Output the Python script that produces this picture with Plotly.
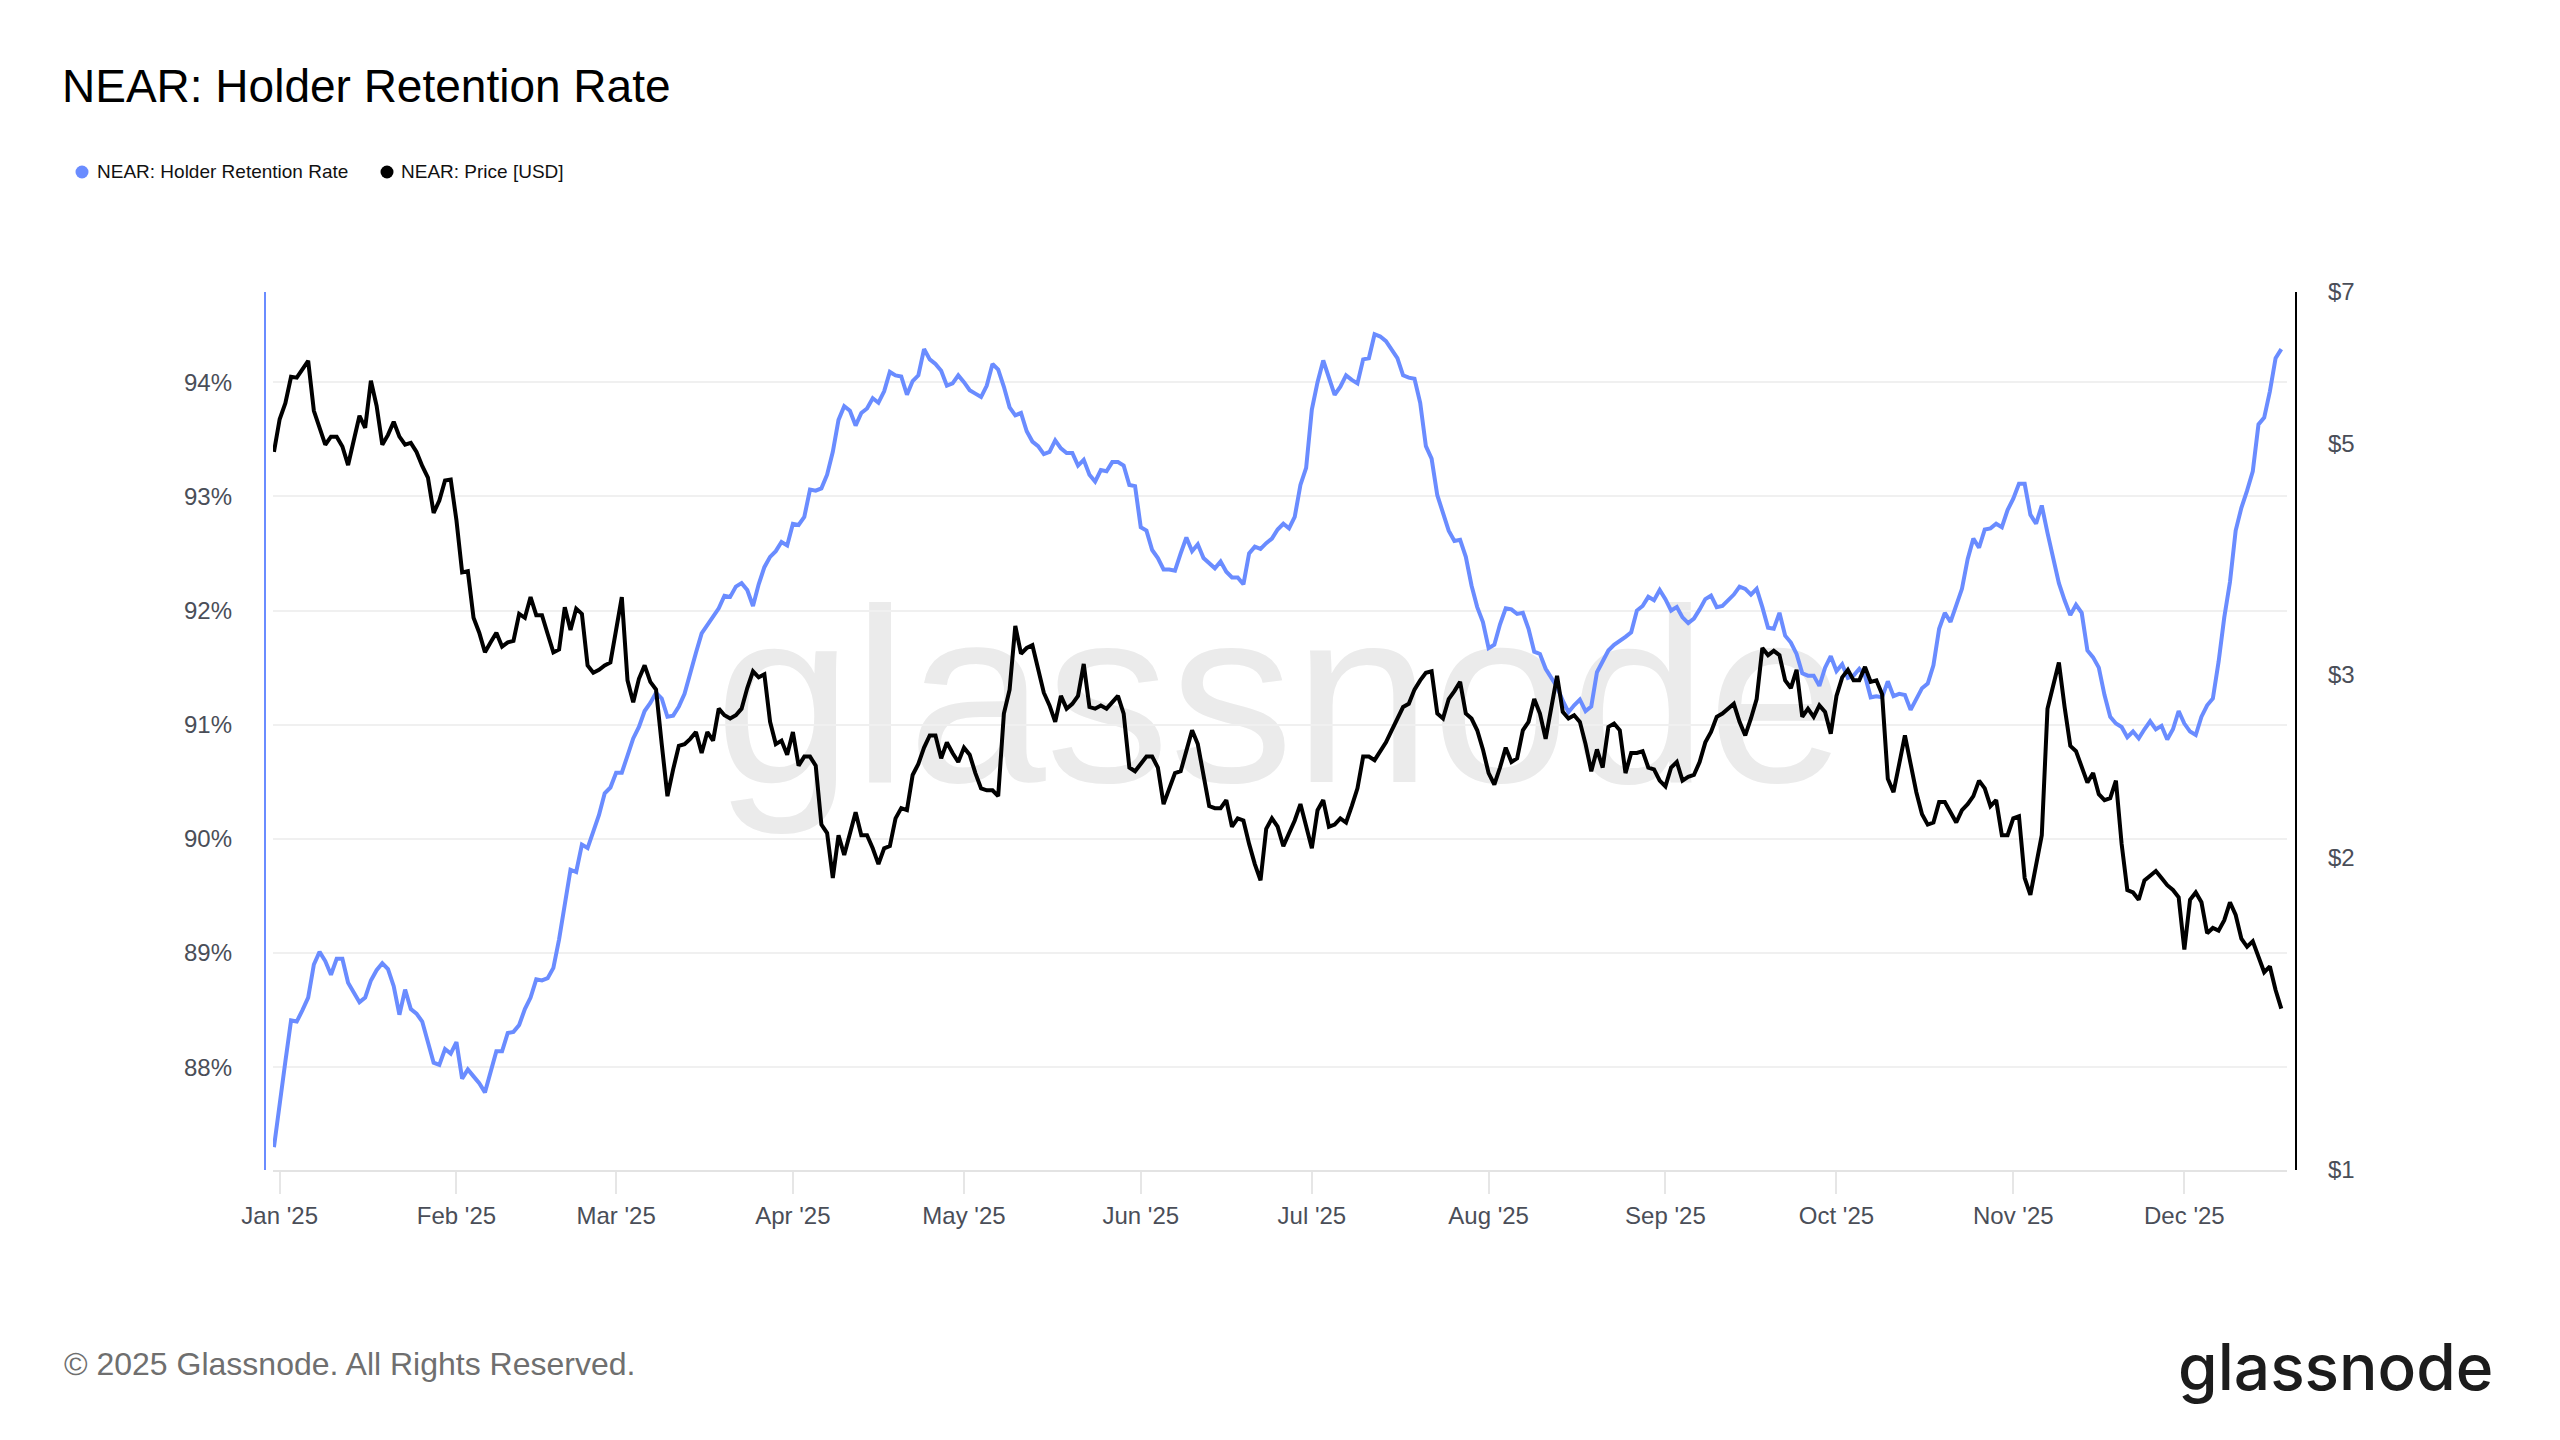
import pandas as pd
import plotly.graph_objects as go

# ---------------- data (daily, starting 2024-12-31) ----------------
start_date = "2024-12-31"

retention_rate = [
    87.30, 87.70, 88.05, 88.41, 88.40, 88.50, 88.61, 88.90, 89.01, 88.93,
    88.81, 88.95, 88.95, 88.74, 88.65, 88.57, 88.61, 88.76, 88.85, 88.91,
    88.86, 88.71, 88.46, 88.68, 88.51, 88.47, 88.40, 88.22, 88.04, 88.02,
    88.16, 88.12, 88.22, 87.90, 87.98, 87.92, 87.86, 87.78, 87.95, 88.14,
    88.14, 88.30, 88.31, 88.37, 88.51, 88.61, 88.77, 88.76, 88.78, 88.87,
    89.12, 89.42, 89.73, 89.71, 89.95, 89.92, 90.06, 90.21, 90.40, 90.45,
    90.58, 90.58, 90.73, 90.88, 90.98, 91.12, 91.19, 91.28, 91.23, 91.07,
    91.08, 91.16, 91.27, 91.46, 91.63, 91.80, 91.87, 91.95, 92.02, 92.13,
    92.12, 92.21, 92.24, 92.18, 92.04, 92.23, 92.38, 92.47, 92.52, 92.60,
    92.57, 92.76, 92.75, 92.82, 93.06, 93.05, 93.07, 93.19, 93.39, 93.67,
    93.79, 93.75, 93.62, 93.73, 93.77, 93.86, 93.82, 93.92, 94.09, 94.06,
    94.05, 93.89, 94.01, 94.06, 94.29, 94.20, 94.16, 94.10, 93.97, 93.99,
    94.06, 94.00, 93.93, 93.90, 93.87, 93.97, 94.16, 94.11, 93.96, 93.78,
    93.71, 93.73, 93.57, 93.48, 93.44, 93.37, 93.39, 93.49, 93.42, 93.38,
    93.38, 93.27, 93.32, 93.19, 93.13, 93.23, 93.22, 93.30, 93.30, 93.27,
    93.10, 93.09, 92.73, 92.70, 92.53, 92.46, 92.36, 92.36, 92.35, 92.50,
    92.64, 92.52, 92.58, 92.46, 92.42, 92.37, 92.43, 92.34, 92.29, 92.29,
    92.23, 92.50, 92.56, 92.54, 92.59, 92.63, 92.71, 92.76, 92.72, 92.82,
    93.10, 93.25, 93.76, 94.00, 94.19, 94.04, 93.89, 93.96, 94.06, 94.02,
    93.99, 94.20, 94.21, 94.42, 94.40, 94.36, 94.29, 94.21, 94.06, 94.04,
    94.03, 93.82, 93.44, 93.33, 93.01, 92.85, 92.70, 92.61, 92.62, 92.47,
    92.22, 92.03, 91.90, 91.67, 91.70, 91.88, 92.02, 92.01, 91.97, 91.98,
    91.84, 91.64, 91.62, 91.49, 91.41, 91.33, 91.21, 91.11, 91.17, 91.22,
    91.12, 91.16, 91.46, 91.55, 91.65, 91.70, 91.73, 91.77, 91.81, 92.00,
    92.04, 92.12, 92.09, 92.18, 92.10, 92.00, 92.03, 91.94, 91.89, 91.93,
    92.01, 92.10, 92.13, 92.03, 92.04, 92.09, 92.14, 92.21, 92.19, 92.14,
    92.19, 92.03, 91.85, 91.84, 91.98, 91.78, 91.72, 91.62, 91.45, 91.43,
    91.43, 91.34, 91.50, 91.60, 91.47, 91.53, 91.41, 91.43, 91.49, 91.43,
    91.24, 91.25, 91.24, 91.38, 91.25, 91.27, 91.26, 91.13, 91.22, 91.32,
    91.36, 91.52, 91.84, 91.98, 91.90, 92.04, 92.19, 92.45, 92.63, 92.55,
    92.71, 92.72, 92.76, 92.73, 92.88, 92.98, 93.11, 93.11, 92.84, 92.76,
    92.92, 92.68, 92.47, 92.24, 92.09, 91.96, 92.05, 91.98, 91.65, 91.59,
    91.50, 91.26, 91.07, 91.01, 90.98, 90.89, 90.94, 90.88, 90.96, 91.03,
    90.96, 90.99, 90.87, 90.96, 91.12, 91.01, 90.94, 90.91, 91.07, 91.17,
    91.23, 91.55, 91.94, 92.25, 92.70, 92.90, 93.05, 93.22, 93.63, 93.69,
    93.92, 94.21, 94.29,
]

price_usd = [
    4.91, 5.28, 5.47, 5.80, 5.79, 5.90, 6.01, 5.38, 5.17, 4.99,
    5.08, 5.08, 4.97, 4.77, 5.04, 5.32, 5.18, 5.75, 5.44, 4.99,
    5.10, 5.25, 5.08, 4.99, 5.01, 4.91, 4.76, 4.64, 4.29, 4.41,
    4.61, 4.62, 4.22, 3.76, 3.77, 3.40, 3.29, 3.15, 3.22, 3.29,
    3.19, 3.22, 3.23, 3.43, 3.40, 3.56, 3.42, 3.42, 3.28, 3.15,
    3.17, 3.48, 3.31, 3.47, 3.43, 3.06, 3.01, 3.03, 3.06, 3.08,
    3.31, 3.56, 2.96, 2.82, 2.97, 3.06, 2.95, 2.90, 2.57, 2.29,
    2.43, 2.56, 2.57, 2.60, 2.64, 2.52, 2.64, 2.59, 2.78, 2.74,
    2.72, 2.74, 2.78, 2.91, 3.02, 2.98, 3.00, 2.70, 2.57, 2.59,
    2.51, 2.64, 2.45, 2.50, 2.50, 2.45, 2.15, 2.11, 1.91, 2.10,
    2.01, 2.10, 2.21, 2.10, 2.10, 2.04, 1.97, 2.04, 2.05, 2.18,
    2.23, 2.22, 2.40, 2.46, 2.55, 2.62, 2.62, 2.49, 2.58, 2.52,
    2.47, 2.55, 2.51, 2.41, 2.33, 2.32, 2.32, 2.29, 2.75, 2.90,
    3.34, 3.14, 3.18, 3.20, 3.03, 2.88, 2.80, 2.70, 2.86, 2.78,
    2.81, 2.86, 3.07, 2.79, 2.78, 2.80, 2.78, 2.82, 2.86, 2.75,
    2.44, 2.42, 2.46, 2.50, 2.50, 2.44, 2.25, 2.33, 2.41, 2.42,
    2.54, 2.65, 2.57, 2.40, 2.24, 2.23, 2.23, 2.27, 2.14, 2.18,
    2.17, 2.06, 1.97, 1.90, 2.13, 2.18, 2.14, 2.05, 2.11, 2.17,
    2.25, 2.14, 2.04, 2.22, 2.27, 2.14, 2.15, 2.18, 2.16, 2.24,
    2.33, 2.50, 2.50, 2.48, 2.53, 2.58, 2.65, 2.72, 2.79, 2.81,
    2.90, 2.96, 3.01, 3.02, 2.75, 2.72, 2.84, 2.89, 2.95, 2.75,
    2.72, 2.65, 2.54, 2.41, 2.35, 2.44, 2.55, 2.47, 2.49, 2.65,
    2.70, 2.84, 2.75, 2.60, 2.79, 2.99, 2.76, 2.72, 2.74, 2.70,
    2.57, 2.42, 2.54, 2.44, 2.67, 2.69, 2.65, 2.41, 2.52, 2.52,
    2.53, 2.44, 2.43, 2.37, 2.34, 2.44, 2.47, 2.37, 2.39, 2.40,
    2.47, 2.58, 2.64, 2.73, 2.75, 2.78, 2.81, 2.70, 2.62, 2.72,
    2.84, 3.18, 3.13, 3.16, 3.13, 2.96, 2.91, 3.03, 2.73, 2.78,
    2.73, 2.80, 2.76, 2.63, 2.86, 2.98, 3.03, 2.96, 2.96, 3.05,
    2.95, 2.96, 2.87, 2.38, 2.31, 2.46, 2.62, 2.46, 2.31, 2.20,
    2.15, 2.16, 2.26, 2.26, 2.21, 2.16, 2.22, 2.25, 2.29, 2.37,
    2.33, 2.24, 2.27, 2.10, 2.10, 2.18, 2.19, 1.91, 1.84, 1.96,
    2.10, 2.78, 2.93, 3.08, 2.79, 2.56, 2.53, 2.44, 2.36, 2.41,
    2.30, 2.27, 2.28, 2.37, 2.06, 1.86, 1.85, 1.82, 1.90, 1.92,
    1.94, 1.91, 1.88, 1.86, 1.83, 1.63, 1.82, 1.85, 1.81, 1.69,
    1.71, 1.70, 1.74, 1.81, 1.76, 1.67, 1.64, 1.66, 1.60, 1.55,
    1.57, 1.49, 1.43,
]

month_ticks = ["2025-01-01", "2025-02-01", "2025-03-01", "2025-04-01", "2025-05-01", "2025-06-01",
               "2025-07-01", "2025-08-01", "2025-09-01", "2025-10-01", "2025-11-01", "2025-12-01"]
month_labels = ["Jan '25", "Feb '25", "Mar '25", "Apr '25", "May '25", "Jun '25",
                "Jul '25", "Aug '25", "Sep '25", "Oct '25", "Nov '25", "Dec '25"]
pct_ticks = [88, 89, 90, 91, 92, 93, 94]
pct_labels = ["88%", "89%", "90%", "91%", "92%", "93%", "94%"]
usd_ticks = [1, 2, 3, 5, 7]
usd_labels = ["$1", "$2", "$3", "$5", "$7"]

assert len(retention_rate) == len(price_usd)
dates = pd.date_range(start_date, periods=len(retention_rate), freq="D")

# ---------------- style ----------------
BLUE = "#6a8cff"
FONT = "Liberation Sans, Arial, Helvetica, sans-serif"
TICK_COLOR = "#4a4e58"

fig = go.Figure()
fig.add_trace(go.Scatter(x=dates, y=retention_rate, name="NEAR: Holder Retention Rate",
                         mode="lines", line=dict(color=BLUE, width=4), yaxis="y"))
fig.add_trace(go.Scatter(x=dates, y=price_usd, name="NEAR: Price [USD]",
                         mode="lines", line=dict(color="#000000", width=4), yaxis="y2"))

W, H = 2560, 1440
L, R, T, B = 273, 273, 292, 270
PW, PH = W - L - R, H - T - B


def px(xpix):
    return (xpix - L) / PW


def py(ypix):
    return (H - B - ypix) / PH


shapes = [
    # left axis line (blue) and right axis line (black), offset slightly outside
    dict(type="line", xref="paper", yref="paper", x0=px(265), x1=px(265), y0=0, y1=1,
         line=dict(color=BLUE, width=2)),
    dict(type="line", xref="paper", yref="paper", x0=px(2296), x1=px(2296), y0=0, y1=1,
         line=dict(color="#000000", width=2)),
    # watermark
    dict(type="rect", xref="paper", yref="paper", x0=0.2, x1=0.8, y0=py(798), y1=py(548),
         line=dict(width=0), fillcolor="rgba(0,0,0,0)", layer="below",
         label=dict(text="glassnode", textposition="middle center",
                    font=dict(family=FONT, size=248, color="#ebebeb"))),
]

# legend dots
for xc, col in [(82, BLUE), (387, "#000000")]:
    shapes.append(dict(type="circle", xref="paper", yref="paper", xsizemode="pixel", ysizemode="pixel",
                       xanchor=px(xc), yanchor=py(172), x0=-6.5, x1=6.5, y0=-6.5, y1=6.5,
                       fillcolor=col, line=dict(width=0)))

annotations = [
    dict(text="NEAR: Holder Retention Rate", xref="paper", yref="paper", x=px(95), y=py(171.5),
         xanchor="left", yanchor="middle", showarrow=False, font=dict(family=FONT, size=19, color="#111111")),
    dict(text="NEAR: Price [USD]", xref="paper", yref="paper", x=px(399), y=py(171.5),
         xanchor="left", yanchor="middle", showarrow=False, font=dict(family=FONT, size=19, color="#111111")),
    dict(text="© 2025 Glassnode. All Rights Reserved.", xref="paper", yref="paper", x=px(62), y=py(1364),
         xanchor="left", yanchor="middle", showarrow=False, font=dict(family=FONT, size=32, color="#6f6f6f")),
    dict(text="glassnode", xref="paper", yref="paper", x=px(2495), y=py(1366),
         xanchor="right", yanchor="middle", showarrow=False,
         font=dict(family="Inter, Liberation Sans, sans-serif", size=64, color="#1c1c1c", weight=500)),
]

fig.update_layout(
    width=W, height=H, autosize=False,
    margin=dict(l=L, r=R, t=T, b=B, pad=0),
    paper_bgcolor="#ffffff", plot_bgcolor="#ffffff",
    font=dict(family=FONT, color=TICK_COLOR),
    showlegend=False,
    title=dict(text="NEAR: Holder Retention Rate", x=62 / W, xanchor="left", xref="container",
               y=1 - 86 / H, yanchor="middle", font=dict(family=FONT, size=46, color="#000000")),
    xaxis=dict(type="date", range=["2024-12-30 20:00", "2025-12-19 00:00"],
               tickvals=month_ticks, ticktext=month_labels,
               ticks="outside", ticklen=22, tickwidth=1.5, tickcolor="#e6e6e6",
               showline=True, linecolor="#e3e3e3", linewidth=2, showgrid=False, zeroline=False,
               tickfont=dict(family=FONT, size=24, color=TICK_COLOR), ticklabelstandoff=1),
    yaxis=dict(range=[87.10, 94.79], tickvals=pct_ticks, ticktext=pct_labels,
               showgrid=True, gridcolor="#f0f0f0", gridwidth=2, zeroline=False, showline=False,
               ticks="", tickfont=dict(family=FONT, size=24, color=TICK_COLOR), ticklabelstandoff=40),
    yaxis2=dict(type="log", range=[0, 0.845098], tickvals=usd_ticks, ticktext=usd_labels,
                overlaying="y", side="right", showgrid=False, zeroline=False, showline=False,
                ticks="", tickfont=dict(family=FONT, size=24, color=TICK_COLOR), ticklabelstandoff=40),
    shapes=shapes,
    annotations=annotations,
)

fig.write_html("out.html")
